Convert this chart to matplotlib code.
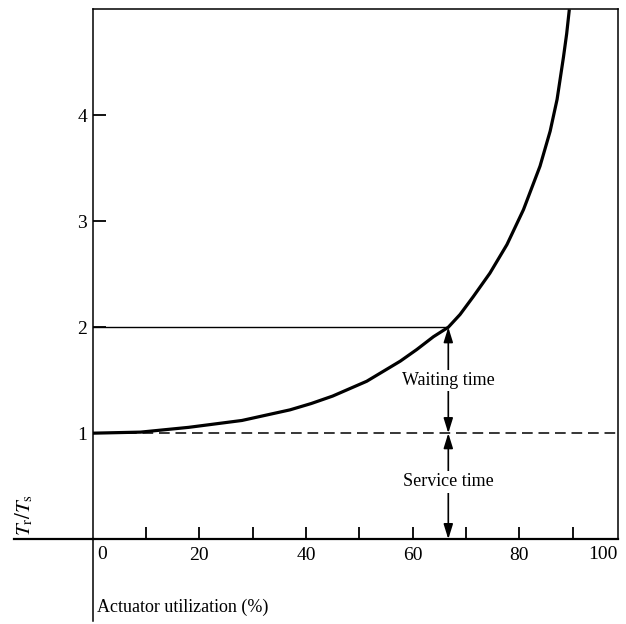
import matplotlib
matplotlib.use("Agg")
import matplotlib.pyplot as plt

# ── data ─────────────────────────────────────────────────────────────────────
util = [0, 9, 18, 28, 37, 41, 45, 51.4, 57.7, 60.8, 63.9, 66.7, 68.9, 71.4,
        74.5, 77.7, 80.8, 83.9, 85.8, 87.1, 88.3, 88.9, 89.4]
ratio = [1.0, 1.01, 1.055, 1.12, 1.22, 1.28, 1.35, 1.49, 1.68, 1.79, 1.91, 2.0,
         2.12, 2.29, 2.51, 2.78, 3.11, 3.52, 3.85, 4.15, 4.55, 4.77, 5.0]

x_ticks = [10, 20, 30, 40, 50, 60, 70, 80, 90]
x_labels = ["", "20", "", "40", "", "60", "", "80", ""]
y_ticks = [1, 2, 3, 4]
y_labels = ["1", "2", "3", "4"]

rho_mark = 66.7      # utilisation where Tr/Ts = 2
x_max = 98.5
y_max = 5.0

plt.rcParams["font.family"] = "Liberation Serif"
plt.rcParams["mathtext.fontset"] = "stix"

fig = plt.figure(figsize=(6.26, 6.24), dpi=100)
ax = fig.add_axes([0.148, 0.136, 0.839, 0.849])

# ── curve and guide lines ────────────────────────────────────────────────────
ax.plot(util, ratio, color="black", lw=2.3, solid_capstyle="butt",
        solid_joinstyle="round")
ax.plot([0, rho_mark], [2, 2], color="black", lw=1.0)
ax.plot([0, x_max], [1, 1], color="black", lw=1.1, dashes=(7, 3.8))

# ── arrows with labels ───────────────────────────────────────────────────────
arrow = dict(arrowstyle="<|-|>,head_length=0.9,head_width=0.28",
             color="black", lw=1.2, shrinkA=0, shrinkB=0)
ax.annotate("", xy=(rho_mark, 2), xytext=(rho_mark, 1), arrowprops=arrow)
ax.annotate("", xy=(rho_mark, 1), xytext=(rho_mark, 0), arrowprops=arrow)
box = dict(facecolor="white", edgecolor="none", pad=1.5)
ax.text(rho_mark, 1.5, "Waiting time", ha="center", va="center",
        fontsize=13, bbox=box)
ax.text(rho_mark, 0.54, "Service time", ha="center", va="center",
        fontsize=13, bbox=box)

# ── axes ─────────────────────────────────────────────────────────────────────
ax.set_xlim(0, x_max)
ax.set_ylim(0, y_max)
for side in ["top", "right", "left"]:
    ax.spines[side].set_linewidth(1.1)
ax.spines["bottom"].set_linewidth(1.6)

ax.set_xticks(x_ticks)
ax.set_xticklabels(x_labels)
ax.set_yticks(y_ticks)
ax.set_yticklabels(y_labels)
ax.tick_params(axis="x", direction="in", length=9, width=1.3, pad=6,
               labelsize=14)
ax.tick_params(axis="y", direction="in", length=9, width=1.3, pad=4,
               labelsize=14)
ax.text(0.008, -0.013, "0", transform=ax.transAxes, ha="left", va="top",
        fontsize=14)
ax.text(1.0, -0.013, "100", transform=ax.transAxes, ha="right", va="top",
        fontsize=14)

# axis lines extended past the origin, as in the original drawing
ax.plot([-14.8, 0], [0, 0], color="black", lw=1.6, clip_on=False)
ax.plot([0, 0], [0, -0.77], color="black", lw=1.1, clip_on=False)

ax.text(-12.8, 0.03, r"$T_{\rm r}/T_{\rm s}$", rotation=90, ha="center",
        va="bottom", fontsize=15)
ax.text(0.8, -0.64, "Actuator utilization (%)", ha="left", va="center",
        fontsize=13)

fig.savefig("out.png", dpi=100)
